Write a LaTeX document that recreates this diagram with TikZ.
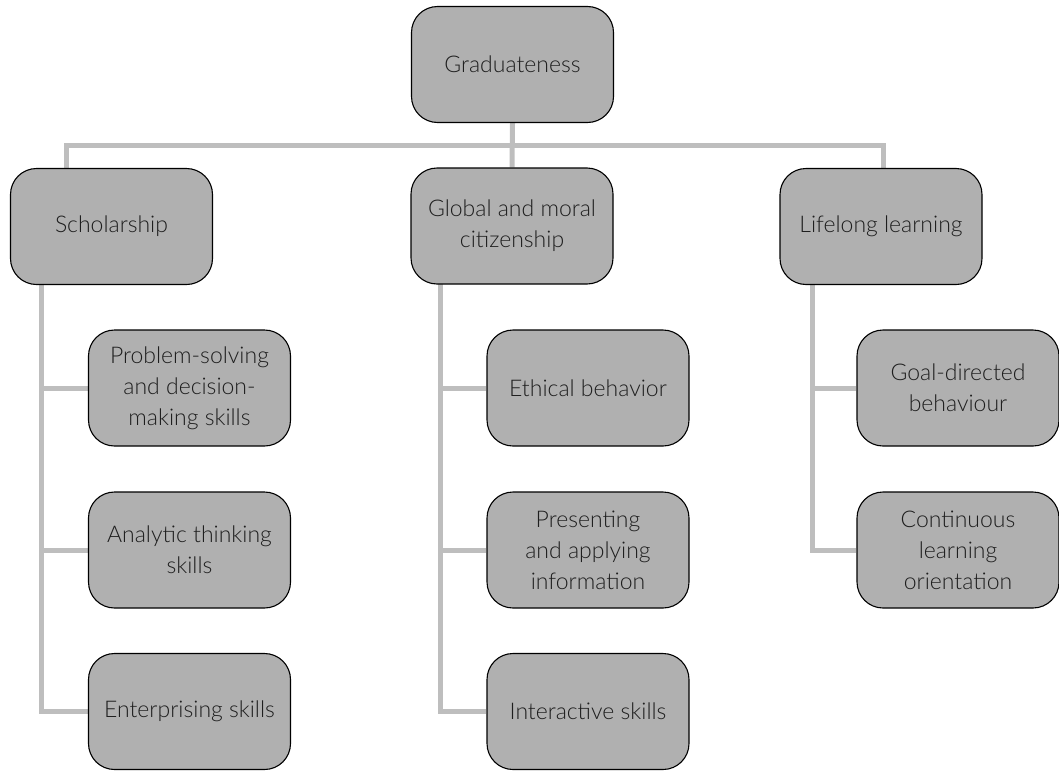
\documentclass[tikz,border=0pt]{standalone}
\usepackage{fontspec}
\setmainfont{Lato}[UprightFont=* Light]
\usetikzlibrary{backgrounds}
\definecolor{boxfill}{RGB}{176,176,176}
\definecolor{connc}{RGB}{190,190,190}
\definecolor{txt}{RGB}{30,30,30}
\begin{document}
\begin{tikzpicture}[x=1pt,y=1pt,
  box/.style={draw=black, line width=1.1pt, fill=boxfill, rounded corners=26pt,
    minimum width=202pt, minimum height=116pt, align=center, inner sep=4pt,
    text=txt, font=\fontsize{23}{31}\selectfont},
  conn/.style={draw=connc, line width=5pt}]
\useasboundingbox (0,0) rectangle (1059,-771);
\node[box] (grad) at (512.5,-64.5) {Graduateness};
\node[box] (schol) at (111.5,-226.5) {Scholarship};
\node[box] (glob) at (512,-226) {Global and moral\\citizenship};
\node[box] (life) at (881,-226.5) {Lifelong learning};
\node[box] (ps) at (189.5,-388) {Problem-solving\\and decision-\\making skills};
\node[box] (an) at (189.5,-550) {Analytic thinking\\skills};
\node[box] (ent) at (189.5,-711.5) {Enterprising skills};
\node[box] (eth) at (588,-388) {Ethical behavior};
\node[box] (pres) at (588,-550) {Presenting\\and applying\\information};
\node[box] (inter) at (588,-711.5) {Interactive skills};
\node[box] (goal) at (958,-388) {Goal-directed\\behaviour};
\node[box] (cont) at (958,-550) {Continuous\\learning\\orientation};
\coordinate (barL) at (66.7,-145.7);
\coordinate (barR) at (883,-145.7);
\begin{scope}[on background layer]
\draw[conn] (grad.south) -- (glob.north);
\draw[conn] (schol.north -| barL) -- (barL) -- (barR) -- (life.north -| barR);
\coordinate (tA) at (41,-285);
\coordinate (tB) at (440,-284);
\coordinate (tC) at (812,-285);
\draw[conn] (tA) |- (ent.west);
\draw[conn] (ps.west) -- (ps.west -| tA);
\draw[conn] (an.west) -- (an.west -| tA);
\draw[conn] (tB) |- (inter.west);
\draw[conn] (eth.west) -- (eth.west -| tB);
\draw[conn] (pres.west) -- (pres.west -| tB);
\draw[conn] (tC) |- (cont.west);
\draw[conn] (goal.west) -- (goal.west -| tC);
\end{scope}
\end{tikzpicture}
\end{document}
